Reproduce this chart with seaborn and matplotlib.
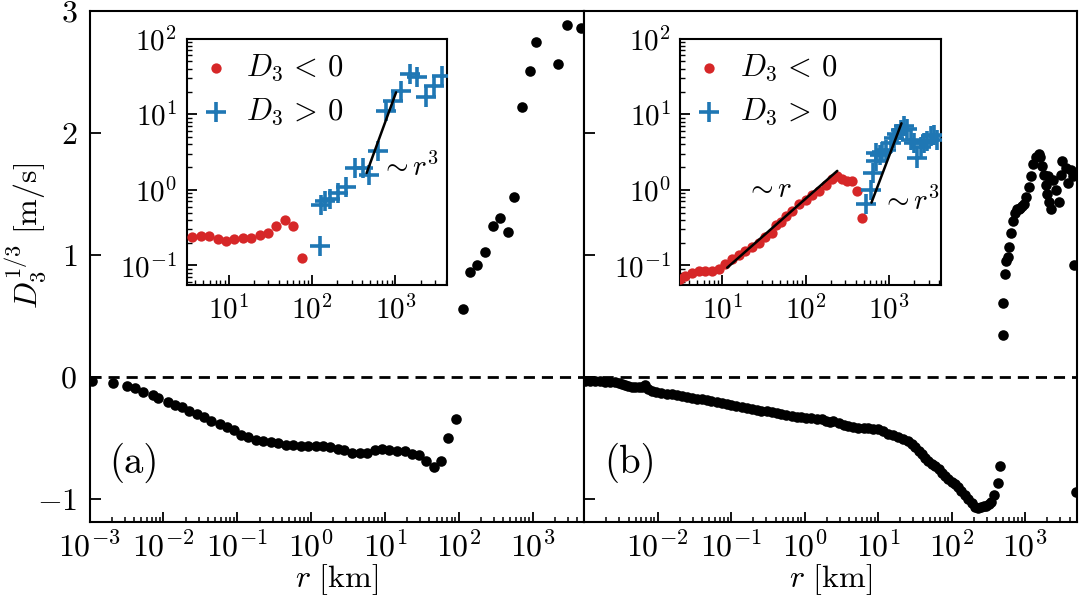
import numpy as np
import matplotlib
matplotlib.use("Agg")
import matplotlib.pyplot as plt
import matplotlib.ticker as mticker
import seaborn as sns

# ---- panel (a) main: log10(r [km]) and D3^(1/3) [m/s] ----
lr_a = [-2.97, -2.68, -2.50, -2.38, -2.28, -2.14, -2.08, -1.94, -1.84, -1.75,
        -1.65, -1.54, -1.45, -1.35, -1.24, -1.14, -1.04, -0.95, -0.85, -0.75,
        -0.65, -0.55, -0.45, -0.34, -0.24, -0.14, -0.04, 0.06, 0.16, 0.26,
        0.36, 0.45, 0.56, 0.66, 0.76, 0.86, 0.96, 1.06, 1.17, 1.27,
        1.36, 1.46, 1.56, 1.66, 1.76, 1.86, 1.96,
        2.06, 2.15, 2.25, 2.36, 2.46, 2.56, 2.66, 2.75, 2.86, 2.96,
        3.05, 3.35, 3.46, 3.65]
d3_a = [-0.030, -0.048, -0.076, -0.093, -0.122, -0.150, -0.176, -0.207, -0.229, -0.249,
        -0.278, -0.306, -0.331, -0.360, -0.382, -0.411, -0.439, -0.473, -0.496, -0.516,
        -0.527, -0.533, -0.544, -0.555, -0.561, -0.564, -0.564, -0.564, -0.570, -0.578,
        -0.589, -0.603, -0.626, -0.626, -0.626, -0.598, -0.592, -0.598, -0.606, -0.609,
        -0.632, -0.643, -0.688, -0.737, -0.688, -0.501, -0.343,
        0.558, 0.864, 0.921, 1.023, 1.238, 1.306, 1.184, 1.473, 2.215, 2.510,
        2.745, 2.567, 2.884, 2.861]

# ---- panel (b) main ----
lr_b = [-2.99, -2.92, -2.85, -2.78, -2.72, -2.65, -2.58, -2.53, -2.49, -2.44,
        -2.40, -2.35, -2.31, -2.26, -2.22, -2.17, -2.13, -2.08, -2.02, -1.95,
        -1.88, -1.81, -1.74, -1.67, -1.60, -1.54, -1.47, -1.40, -1.33, -1.27,
        -1.20, -1.13, -1.06, -1.00, -0.93, -0.86, -0.79, -0.72, -0.65, -0.59,
        -0.52, -0.45, -0.38, -0.32, -0.25, -0.18, -0.11, -0.05, 0.02, 0.09,
        0.16, 0.23, 0.29, 0.34, 0.39, 0.46, 0.53, 0.59, 0.66, 0.73,
        0.80, 0.86, 0.93, 1.00, 1.06, 1.13, 1.20, 1.27, 1.34, 1.41,
        1.46, 1.50, 1.55, 1.59, 1.64, 1.68, 1.73, 1.77, 1.82, 1.86,
        1.91, 1.95, 2.00, 2.04, 2.09, 2.13, 2.18, 2.22, 2.27, 2.31,
        2.36, 2.40, 2.44, 2.47, 2.51, 2.54, 2.58, 2.63, 2.66,
        2.69, 2.70, 2.72, 2.74, 2.76, 2.78, 2.80, 2.83, 2.86, 2.89,
        2.91, 2.93, 2.96, 2.98, 3.01, 3.05, 3.08, 3.11, 3.14, 3.18,
        3.20, 3.23, 3.25, 3.28, 3.29, 3.32, 3.35, 3.31, 3.38, 3.42,
        3.46, 3.48, 3.50, 3.55, 3.58, 3.62, 3.65, 3.66, 3.69]
d3_b = [-0.030, -0.033, -0.035, -0.036, -0.038, -0.040, -0.043, -0.052, -0.060, -0.068,
        -0.076, -0.082, -0.086, -0.084, -0.080, -0.070, -0.095, -0.114, -0.122, -0.130,
        -0.137, -0.143, -0.150, -0.157, -0.164, -0.170, -0.177, -0.184, -0.192, -0.200,
        -0.208, -0.216, -0.223, -0.230, -0.238, -0.246, -0.254, -0.262, -0.269, -0.276,
        -0.283, -0.290, -0.298, -0.305, -0.312, -0.320, -0.326, -0.330, -0.334, -0.338,
        -0.342, -0.346, -0.358, -0.372, -0.365, -0.378, -0.390, -0.400, -0.410, -0.420,
        -0.421, -0.420, -0.424, -0.430, -0.447, -0.465, -0.480, -0.495, -0.510, -0.527,
        -0.550, -0.573, -0.605, -0.635, -0.662, -0.690, -0.710, -0.730, -0.757, -0.784,
        -0.811, -0.838, -0.858, -0.878, -0.905, -0.932, -0.966, -1.000, -1.034, -1.068,
        -1.075, -1.068, -1.062, -1.054, -1.040, -1.027, -0.970, -0.873, -0.730,
        0.340, 0.609, 0.844, 0.949, 0.983, 1.068, 1.176, 1.275, 1.346, 1.374,
        1.380, 1.388, 1.400, 1.416, 1.473, 1.558, 1.643, 1.742, 1.799, 1.827,
        1.799, 1.728, 1.657, 1.572, 1.501, 1.431, 1.374, 1.643, 1.615, 1.530,
        1.431, 1.657, 1.771, 1.714, 1.586, 1.700, 1.643, 0.920, -0.940]

# ---- inset (a): |D3| on log axes ----
ia_neg_lr = [0.566, 0.667, 0.767, 0.871, 0.968, 1.068, 1.169, 1.273, 1.373, 1.474,
             1.574, 1.675, 1.775, 1.876]
ia_neg_ly = [-0.622, -0.609, -0.609, -0.658, -0.676, -0.658, -0.644, -0.636, -0.600, -0.578,
             -0.484, -0.404, -0.480, -0.902]
ia_pos_lr = [2.096, 2.112, 2.160, 2.217, 2.317, 2.406, 2.514, 2.614, 2.687, 2.791,
             2.888, 2.976, 3.072, 3.177, 3.257, 3.369, 3.458, 3.562]
ia_pos_ly = [-0.747, -0.200, -0.150, -0.120, -0.040, 0.040, 0.289, 0.289, 0.200, 0.511,
             1.044, 1.169, 1.311, 1.533, 1.498, 1.222, 1.378, 1.511]
ia_fit_x = [452, 1019]
ia_fit_y = [1.67, 19.5]

# ---- inset (b) ----
ib_neg_lr = [0.50, 0.56, 0.64, 0.72, 0.80, 0.88, 0.96, 1.04, 1.12, 1.20,
             1.28, 1.36, 1.44, 1.52, 1.60, 1.64, 1.70, 1.76, 1.84, 1.92,
             2.00, 2.08, 2.16, 2.24, 2.32, 2.38, 2.44, 2.50, 2.56, 2.62, 2.68]
ib_neg_ly = [-1.18, -1.14, -1.10, -1.08, -1.08, -1.08, -1.05, -0.98, -0.92, -0.86,
             -0.81, -0.76, -0.70, -0.63, -0.57, -0.46, -0.43, -0.35, -0.28, -0.19,
             -0.13, -0.07, -0.02, 0.06, 0.14, 0.18, 0.14, 0.11, 0.11, -0.02, -0.38]
ib_pos_lr = [2.72, 2.78, 2.81, 2.84, 2.85, 2.89, 2.92, 2.96, 3.02, 3.06,
             3.10, 3.14, 3.18, 3.22, 3.26, 3.30, 3.34, 3.38, 3.42, 3.46,
             3.50, 3.54, 3.58]
ib_pos_ly = [-0.19, 0.00, 0.22, 0.38, 0.49, 0.46, 0.50, 0.53, 0.62, 0.68,
             0.74, 0.79, 0.84, 0.80, 0.66, 0.62, 0.42, 0.57, 0.62, 0.64,
             0.71, 0.73, 0.66]
ib_fit1_x = [11.5, 240]
ib_fit1_y = [0.093, 1.78]
ib_fit3_x = [617, 1413]
ib_fit3_y = [0.676, 7.59]

RED = "#d62728"
BLUE = "#1f77b4"
FS = 23      # main tick labels / axis labels
FS_IN = 21   # inset tick labels and notes

sns.set_theme(style="ticks")
plt.rcParams.update({
    "font.family": "serif",
    "font.serif": ["cmr10"],
    "mathtext.fontset": "cm",
    "axes.formatter.use_mathtext": True,
    "axes.linewidth": 1.5,
    "axes.edgecolor": "black",
    "xtick.color": "black",
    "ytick.color": "black",
    "text.color": "black",
    "axes.labelcolor": "black",
})

fig = plt.figure(figsize=(10.8, 6.05), dpi=100)
ax_a = fig.add_axes([0.083, 0.137, 0.458, 0.845])
ax_b = fig.add_axes([0.541, 0.137, 0.456, 0.845], sharey=ax_a)

for ax, lr, d3 in [(ax_a, lr_a, d3_a), (ax_b, lr_b, d3_b)]:
    sns.scatterplot(x=10 ** np.array(lr), y=d3, ax=ax, color="black",
                    s=58, linewidth=0, zorder=3)
    ax.axhline(0, color="black", ls=(0, (4, 2.5)), lw=2, zorder=2)
    ax.set_xscale("log")
    ax.set_xlim(1e-3, 10 ** 3.7)
    ax.set_xlabel(r"$r\ [\mathrm{km}]$", fontsize=FS, labelpad=0)
    ax.xaxis.set_minor_locator(mticker.LogLocator(base=10, subs=np.arange(2, 10), numticks=20))
    ax.tick_params(axis="both", which="both", direction="in", labelsize=FS)
    ax.tick_params(axis="x", which="major", length=7, width=1.3, pad=6)
    ax.tick_params(axis="x", which="minor", length=3.5, width=1.1)
    ax.tick_params(axis="y", which="major", length=8, width=1.3, pad=9)

ax_a.set_ylim(-1.19, 3.0)
ax_a.set_yticks([-1, 0, 1, 2, 3])
ax_a.set_xticks([1e-3, 1e-2, 1e-1, 1e0, 1e1, 1e2, 1e3])
ax_b.set_xticks([1e-2, 1e-1, 1e0, 1e1, 1e2, 1e3])
ax_b.xaxis.set_minor_locator(mticker.LogLocator(base=10, subs=np.arange(2, 10), numticks=20))
ax_b.tick_params(axis="y", labelleft=False)
ax_a.set_ylabel(r"$D_3^{1/3}\ [\mathrm{m/s}]$", fontsize=23)
ax_a.yaxis.set_label_coords(-0.084, 0.56)

ax_a.text(0.04, 0.115, "(a)", transform=ax_a.transAxes, fontsize=28, va="center")
ax_b.text(0.04, 0.115, "(b)", transform=ax_b.transAxes, fontsize=28, va="center")

# ---- insets ----
ins_a = fig.add_axes([0.173, 0.529, 0.241, 0.407])
ins_b = fig.add_axes([0.630, 0.529, 0.241, 0.407])

inset_sets = [
    (ins_a, ia_neg_lr, ia_neg_ly, ia_pos_lr, ia_pos_ly),
    (ins_b, ib_neg_lr, ib_neg_ly, ib_pos_lr, ib_pos_ly),
]
for ins, nlr, nly, plr, ply in inset_sets:
    ins.set_facecolor("white")
    sns.scatterplot(x=10 ** np.array(nlr), y=10 ** np.array(nly), ax=ins,
                    color=RED, s=55, linewidth=0, label=r"$D_3\,<\,0$", zorder=3)
    ins.scatter(10 ** np.array(plr), 10 ** np.array(ply), marker="+",
                color=BLUE, s=200, linewidths=2.6, label=r"$D_3\,>\,0$", zorder=3)
    ins.set_xscale("log")
    ins.set_yscale("log")
    ins.set_xlim(10 ** 0.5, 10 ** 3.62)
    ins.set_ylim(10 ** -1.26, 100)
    ins.set_xticks([1e1, 1e2, 1e3])
    ins.set_yticks([1e-1, 1e0, 1e1, 1e2])
    ins.xaxis.set_minor_locator(mticker.LogLocator(base=10, subs=np.arange(2, 10), numticks=20))
    ins.yaxis.set_minor_locator(mticker.LogLocator(base=10, subs=np.arange(2, 10), numticks=20))
    ins.xaxis.set_minor_formatter(mticker.NullFormatter())
    ins.yaxis.set_minor_formatter(mticker.NullFormatter())
    ins.tick_params(axis="both", which="both", direction="in", labelsize=FS_IN)
    ins.tick_params(axis="both", which="major", length=7, width=1.3, pad=7)
    ins.tick_params(axis="both", which="minor", length=3.5, width=1.0)
    ins.legend(loc="upper left", frameon=False, fontsize=22, handletextpad=0.5,
               borderaxespad=0.15, labelspacing=0.45, borderpad=0.3,
               handlelength=1.0)

ins_a.plot(ia_fit_x, ia_fit_y, color="black", lw=1.8, zorder=4)
ins_a.text(646, 2.0, r"$\sim r^3$", fontsize=FS_IN, ha="left", va="center")

ins_b.plot(ib_fit1_x, ib_fit1_y, color="black", lw=1.8, zorder=4)
ins_b.plot(ib_fit3_x, ib_fit3_y, color="black", lw=1.8, zorder=4)
ins_b.text(19, 1.0, r"$\sim r$", fontsize=FS_IN, ha="left", va="center")
ins_b.text(794, 0.71, r"$\sim r^3$", fontsize=FS_IN, ha="left", va="center")

fig.savefig("out.png", dpi=100)
